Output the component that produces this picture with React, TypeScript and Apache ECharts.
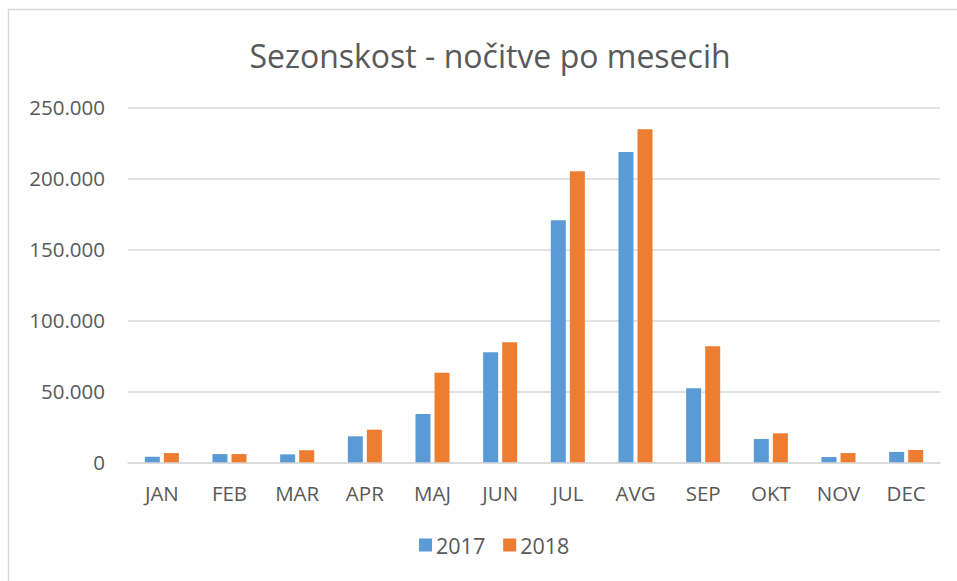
import React, { useEffect, useRef } from "react";
import * as echarts from "echarts";

const months = ["JAN", "FEB", "MAR", "APR", "MAJ", "JUN", "JUL", "AVG", "SEP", "OKT", "NOV", "DEC"];
const values2017 = [3900, 5800, 5600, 18300, 34000, 77500, 170400, 218500, 52100, 16400, 3700, 7300];
const values2018 = [6500, 5800, 8500, 23000, 63100, 84500, 205000, 234500, 81700, 20400, 6500, 8700];
const seriesNames = ["2017", "2018"];
const titleText = "Sezonskost - nočitve po mesecih";

const FONT = "'Open Sans', 'Liberation Sans', sans-serif";
const TEXT = "#595959";
const GRID = "#D9D9D9";

function fmt(v: number): string {
  return String(Math.round(v)).replace(/\B(?=(\d{3})+(?!\d))/g, ".");
}

export default function App() {
  const ref = useRef<HTMLDivElement>(null);
  useEffect(() => {
    if (!ref.current) return;
    const chart = echarts.init(ref.current, undefined, { renderer: "svg" });
    chart.setOption({
      animation: false,
      backgroundColor: "#ffffff",
      textStyle: { fontFamily: FONT },
      graphic: [
        {
          type: "rect",
          shape: { x: 8.5, y: 9.5, width: 1200, height: 1200 },
          style: { fill: "none", stroke: GRID, lineWidth: 1.3 },
          silent: true,
        },
        {
          type: "text",
          x: 490,
          y: 55,
          style: {
            text: titleText,
            align: "center",
            verticalAlign: "middle",
            fill: TEXT,
            fontSize: 32,
            fontFamily: FONT,
          },
        },
      ],
      legend: {
        data: seriesNames,
        bottom: 20,
        left: 414,
        itemWidth: 13,
        itemHeight: 13,
        itemGap: 18,
        icon: "rect",
        textStyle: { color: TEXT, fontSize: 21.5, fontFamily: FONT, padding: [0, 0, 0, -1] },
      },
      grid: { left: 128, right: 17, top: 107.3, bottom: 118.7, containLabel: false },
      xAxis: {
        type: "category",
        data: months,
        axisLine: { show: true, lineStyle: { color: GRID, width: 1.5 } },
        axisTick: { show: false },
        axisLabel: { color: TEXT, fontSize: 20.5, margin: 20, fontFamily: FONT },
      },
      yAxis: {
        type: "value",
        min: 0,
        max: 250000,
        interval: 50000,
        axisLine: { show: false },
        axisTick: { show: false },
        splitLine: { lineStyle: { color: GRID, width: 1.5 } },
        axisLabel: {
          color: TEXT,
          fontSize: 20.5,
          margin: 23,
          fontFamily: FONT,
          formatter: (v: number) => fmt(v),
        },
      },
      series: [
        {
          name: seriesNames[0],
          type: "bar",
          data: values2017,
          barWidth: 15,
          barGap: "27%",
          itemStyle: { color: "#5B9BD5" },
        },
        {
          name: seriesNames[1],
          type: "bar",
          data: values2018,
          barWidth: 15,
          itemStyle: { color: "#ED7D31" },
        },
      ],
    });
    return () => chart.dispose();
  }, []);
  return (
    <div
      ref={ref}
      style={{ position: "absolute", left: 0, top: 0, width: 957, height: 581 }}
    />
  );
}
